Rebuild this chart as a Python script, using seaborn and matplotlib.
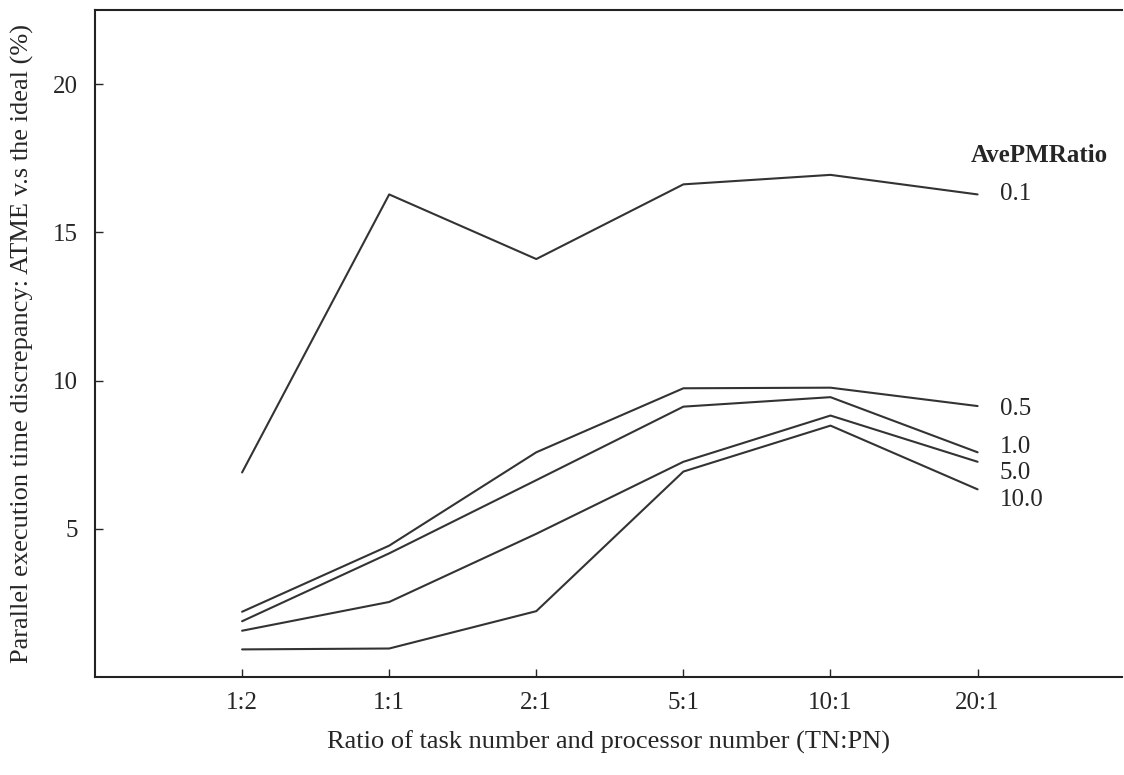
import matplotlib
matplotlib.use("Agg")
import matplotlib.pyplot as plt
import seaborn as sns
import pandas as pd

# data
ratios = ["1:2", "1:1", "2:1", "5:1", "10:1", "20:1"]
series_names = ["0.1", "0.5", "1.0", "5.0", "10.0"]
vals_01 = [6.9, 16.28, 14.1, 16.62, 16.94, 16.28]
vals_05 = [2.2, 4.43, 7.58, 9.74, 9.76, 9.14]
vals_10 = [1.88, 4.17, 6.64, 9.12, 9.44, 7.58]
vals_50 = [1.56, 2.53, 4.83, 7.26, 8.82, 7.26]
vals_100 = [0.93, 0.96, 2.22, 6.93, 8.48, 6.33]
label_y = [16.3, 9.05, 7.75, 6.88, 5.97]

sns.set_style("ticks")
plt.rcParams["font.family"] = ["Liberation Serif", "DejaVu Serif"]

rows = []
for name, vals in zip(series_names, [vals_01, vals_05, vals_10, vals_50, vals_100]):
    for i, v in enumerate(vals):
        rows.append({"pos": i, "ratio": ratios[i], "AvePMRatio": name, "value": v})
df = pd.DataFrame(rows)

fig = plt.figure(figsize=(11.24, 7.75), dpi=100)
ax = fig.add_axes([0.0845, 0.1265, 0.9135, 0.8605])

sns.lineplot(data=df, x="pos", y="value", hue="AvePMRatio",
             palette=["#333333"] * len(series_names), linewidth=1.5,
             legend=False, ax=ax)

# direct labels at the line ends
for name, y in zip(series_names, label_y):
    ax.text(5.15, y, name, fontsize=18, va="center", ha="left")
ax.text(5.42, 17.6, "AvePMRatio", fontsize=18, fontweight="bold",
        va="center", ha="center")

ax.set_xlim(-1, 5.98)
ax.set_ylim(0, 22.5)
ax.set_xticks(range(len(ratios)))
ax.set_xticklabels(ratios)
ax.set_yticks([5, 10, 15, 20])
ax.tick_params(direction="in", length=6, labelsize=18, width=1)
ax.tick_params(axis="x", pad=11)
ax.tick_params(axis="y", pad=12)
for s in ["left", "bottom", "top"]:
    ax.spines[s].set_linewidth(1.5)
    ax.spines[s].set_color("#222222")
ax.spines["right"].set_visible(False)

ax.set_xlabel("Ratio of task number and processor number (TN:PN)",
              fontsize=19, labelpad=12)
ax.set_ylabel("Parallel execution time discrepancy: ATME v.s the ideal (%)",
              fontsize=19, labelpad=14)

fig.savefig("out.png", dpi=100)
